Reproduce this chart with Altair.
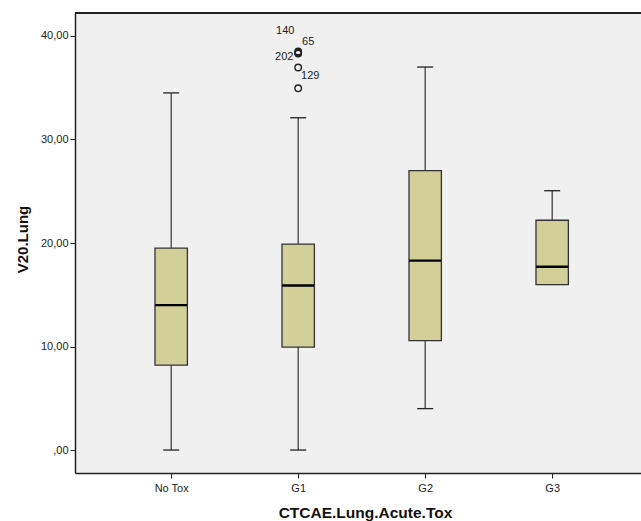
import altair as alt
import pandas as pd

categories = ["No Tox", "G1", "G2", "G3"]
whisker_low = [0.0, 0.0, 4.0, 16.0]
q1 = [8.2, 9.95, 10.56, 15.97]
median = [14.0, 15.9, 18.3, 17.7]
q3 = [19.5, 19.9, 27.0, 22.2]
whisker_high = [34.5, 32.1, 37.0, 25.05]

outlier_group = [1, 1, 1, 1, 1]
outlier_values = [38.5, 38.4, 38.3, 36.95, 34.95]
outlier_labels = ["140", "65", "202", "", "129"]

boxes = pd.DataFrame({
    "idx": list(range(len(categories))),
    "cat": categories,
    "lo": whisker_low, "q1": q1, "med": median, "q3": q3, "hi": whisker_high,
})
outs = pd.DataFrame({"idx": outlier_group, "v": outlier_values, "lab": outlier_labels})

W, H = 566, 460
xscale = alt.Scale(domain=[-0.718, 3.66], nice=False, zero=False)
yscale = alt.Scale(domain=[-2.22, 42.22], nice=False, zero=False)
FONT = "Liberation Sans"

label_expr = "[" + ",".join("'%s'" % c for c in categories) + "][datum.value]"
xaxis = alt.Axis(values=list(range(len(categories))), labelExpr=label_expr,
                 title="CTCAE.Lung.Acute.Tox", grid=False, domainColor="#222",
                 domainWidth=1.5, tickColor="#222", tickSize=5, labelPadding=4,
                 labelFontSize=11, labelColor="#222", labelFont=FONT,
                 titleFont=FONT, titleFontSize=15.5, titleFontWeight="bold",
                 titleColor="#111", titleX=290, titleY=39, titleBaseline="middle",
                 titleAnchor="start", titleAlign="center")
yaxis = alt.Axis(values=[0, 10, 20, 30, 40],
                 labelExpr="datum.value == 0 ? ',00' : datum.value + ',00'",
                 title="V20.Lung", grid=False, domainColor="#222", domainWidth=1.5,
                 tickColor="#222", tickSize=5, labelPadding=2, labelFontSize=11,
                 labelColor="#222", labelFont=FONT, titleFont=FONT, titleFontSize=15,
                 titleFontWeight="bold", titleColor="#111", titleAngle=-90,
                 titleX=-53, titleY=226, titleAlign="center", titleBaseline="middle",
                 titleAnchor="start")

base = alt.Chart(boxes)
x = alt.X("idx:Q", scale=xscale, axis=xaxis)

whisk_up = base.mark_rule(color="#333", strokeWidth=1.2).encode(
    x=x, y=alt.Y("q3:Q", scale=yscale, axis=yaxis), y2="hi:Q")
whisk_dn = base.mark_rule(color="#333", strokeWidth=1.2).encode(
    x=alt.X("idx:Q", scale=xscale), y=alt.Y("lo:Q", scale=yscale), y2="q1:Q")
cap_hi = base.mark_tick(orient="horizontal", size=16, thickness=1.3, color="#222", opacity=1).encode(
    x=alt.X("idx:Q", scale=xscale), y=alt.Y("hi:Q", scale=yscale))
cap_lo = base.mark_tick(orient="horizontal", size=16, thickness=1.3, color="#222", opacity=1).encode(
    x=alt.X("idx:Q", scale=xscale), y=alt.Y("lo:Q", scale=yscale))
box = base.mark_bar(width=32.4, fill="#d3cf98", stroke="#333", strokeWidth=1.3, opacity=1).encode(
    x=alt.X("idx:Q", scale=xscale), y=alt.Y("q1:Q", scale=yscale), y2="q3:Q")
med = base.mark_tick(orient="horizontal", size=32, thickness=2.4, color="#000", opacity=1).encode(
    x=alt.X("idx:Q", scale=xscale), y=alt.Y("med:Q", scale=yscale))

pts = alt.Chart(outs).mark_point(shape="circle", size=42, filled=False, opacity=1,
                                  color="#222", strokeWidth=1.4).encode(
    x=alt.X("idx:Q", scale=xscale), y=alt.Y("v:Q", scale=yscale))

offsets = {"140": (-13, -21), "65": (10, -11), "202": (-14, 3), "129": (12, -12)}
texts = []
for lab, (dx, dy) in offsets.items():
    texts.append(alt.Chart(outs).transform_filter(alt.datum.lab == lab).mark_text(
        dx=dx, dy=dy, font=FONT, fontSize=11, color="#222").encode(
        x=alt.X("idx:Q", scale=xscale), y=alt.Y("v:Q", scale=yscale), text="lab:N"))

top_line = alt.Chart(boxes).mark_rule(color="#222", strokeWidth=1.5).encode(
    x=alt.value(0), x2=alt.value(W), y=alt.value(0))

chart = alt.layer(whisk_up, whisk_dn, cap_hi, cap_lo, box, med, pts, *texts, top_line).properties(
    width=W, height=H,
    autosize=alt.AutoSizeParams(type="none"),
    padding={"left": 75, "top": 13, "right": 0, "bottom": 48},
    background="white",
).configure_view(fill="#f0f0f0", stroke=None)

chart.save("out.html", embed_options={"renderer": "svg", "actions": False})
